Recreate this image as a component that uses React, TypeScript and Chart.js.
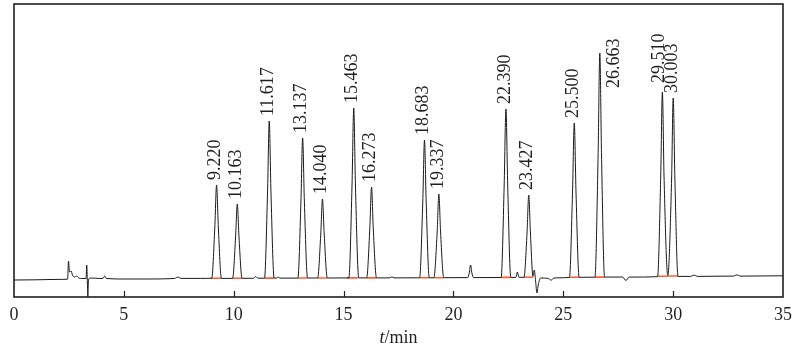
import React, { useEffect, useRef } from "react";
import { Chart, registerables } from "chart.js";

Chart.register(...registerables);

// Chromatogram trace: [retention time (min), signal]
const trace: [number, number][] = [
  [0, -1], [1.0, -0.8], [2.0, -0.4], [2.44, -0.2], [2.48, 18], [2.53, 7], [2.6, 8], [2.66, 4],
  [2.75, 2], [2.85, 3], [2.95, 1], [3.1, 0.5], [3.28, 0.5], [3.31, 14], [3.34, -4], [3.36, -18],
  [3.39, 0], [3.5, 1], [3.9, 0.5], [4.05, 0.6], [4.13, 3], [4.2, 0.5], [5.0, 0], [6.0, 0],
  [7.3, 0.5], [7.47, 2], [7.6, 0.6], [8.5, 0.6], [9.0, 0.8],
  [9.14, 52], [9.22, 94], [9.30, 52], [9.44, 0.6],
  [9.95, 0.6], [10.085, 42], [10.163, 75], [10.24, 42], [10.38, 0.7],
  [10.9, 0.7], [11.0, 2.5], [11.1, 0.8],
  [11.40, 0.8], [11.54, 87], [11.617, 158], [11.695, 87], [11.84, 0.9],
  [11.95, 0.9], [12.02, 2], [12.1, 0.9],
  [12.92, 0.9], [13.06, 78], [13.137, 141], [13.215, 78], [13.36, 1.0],
  [13.82, 1.0], [13.96, 44], [14.04, 80], [14.12, 44], [14.26, 1.0],
  [15.24, 1.1], [15.385, 94], [15.463, 171], [15.54, 94], [15.69, 1.1],
  [16.05, 1.1], [16.195, 51], [16.273, 92], [16.35, 51], [16.50, 1.1],
  [17.1, 1.1], [17.2, 2.2], [17.3, 1.1],
  [18.46, 1.2], [18.605, 77], [18.683, 139], [18.76, 77], [18.90, 1.2],
  [19.11, 1.3], [19.26, 47], [19.337, 85], [19.415, 47], [19.56, 1.3],
  [20.65, 1.4], [20.72, 6], [20.78, 14], [20.84, 6], [20.92, 1.4],
  [22.17, 1.5], [22.31, 94], [22.39, 170], [22.47, 94], [22.61, 1.6],
  [22.84, 1.6], [22.91, 7], [22.98, 1.7],
  [23.21, 1.7], [23.35, 46], [23.427, 84], [23.505, 46], [23.62, 2.5],
  [23.68, 9], [23.74, -2], [23.80, -14], [23.86, -6], [23.97, 1], [24.3, 0.6], [24.45, -1.2],
  [24.55, 0.8], [24.8, 1.2],
  [25.28, 1.6], [25.42, 86], [25.50, 156], [25.58, 86], [25.72, 1.7],
  [26.44, 1.8], [26.585, 124], [26.663, 226], [26.74, 124], [26.88, 1.9],
  [27.7, 2.0], [27.85, -1.5], [28.0, 1.9],
  [29.29, 2.3], [29.435, 103], [29.51, 187], [29.585, 103], [29.757, 3.5],
  [29.93, 100], [30.003, 181], [30.08, 100], [30.22, 2.6],
  [30.8, 2.6], [30.95, 4], [31.1, 2.6], [32.0, 2.8], [32.75, 2.9], [32.9, 4.2], [33.05, 2.9],
  [35, 3.2],
];

// Labelled peaks
const peakTimes = [9.22, 10.163, 11.617, 13.137, 14.04, 15.463, 16.273, 18.683, 19.337, 22.39, 23.427, 25.5, 26.663, 29.51, 30.003];
const peakHeights = [94, 75, 158, 141, 80, 171, 92, 139, 85, 170, 84, 156, 226, 187, 181];
const peakLabels = ["9.220", "10.163", "11.617", "13.137", "14.040", "15.463", "16.273", "18.683", "19.337", "22.390", "23.427", "25.500", "26.663", "29.510", "30.003"];

// Integration baselines under the peaks
const integStart = [8.95, 9.94, 11.40, 12.92, 13.82, 15.15, 16.05, 18.46, 19.11, 22.17, 23.21, 25.28, 26.44, 29.29, 29.76];
const integEnd = [9.44, 10.38, 11.84, 13.36, 14.26, 15.65, 16.50, 18.90, 19.56, 22.61, 23.62, 25.72, 26.88, 29.757, 30.22];
const integBase = [0.7, 0.7, 0.9, 1.0, 1.0, 1.1, 1.1, 1.2, 1.3, 1.6, 1.8, 1.7, 1.9, 2.8, 3.0];

const xTicks = [0, 5, 10, 15, 20, 25, 30, 35];
const xMin = 0;
const xMax = 35;
const yMin = -18;
const yMax = 275;

const SERIF = '"Liberation Serif", "Times New Roman", serif';
const INK = "#231f20";

const decorPlugin = {
  id: "decor",
  afterDatasetsDraw(chart: any) {
    const { ctx, chartArea, scales } = chart;
    const xs = scales.x;
    const ys = scales.y;
    ctx.save();
    // frame
    ctx.strokeStyle = INK;
    ctx.lineWidth = 1.6;
    ctx.strokeRect(chartArea.left, chartArea.top, chartArea.right - chartArea.left, chartArea.bottom - chartArea.top);
    // inner ticks
    ctx.lineWidth = 1.2;
    xTicks.forEach((t) => {
      if (t === xMin || t === xMax) return;
      const px = Math.round(xs.getPixelForValue(t)) + 0.5;
      ctx.beginPath();
      ctx.moveTo(px, chartArea.bottom);
      ctx.lineTo(px, chartArea.bottom - 6);
      ctx.stroke();
    });
    // peak labels
    ctx.fillStyle = INK;
    ctx.font = `18px ${SERIF}`;
    ctx.textAlign = "left";
    ctx.textBaseline = "middle";
    peakLabels.forEach((lab, i) => {
      const px = xs.getPixelForValue(peakTimes[i]);
      const py = ys.getPixelForValue(peakHeights[i]);
      const w = ctx.measureText(lab).width;
      let x = px - 1;
      let y = py - 5;
      if (i + 1 < peakTimes.length) {
        const nx = xs.getPixelForValue(peakTimes[i + 1]);
        if (nx - px < 14) {
          x -= 2.5;
          y -= 4;
        }
      }
      if (y - w < chartArea.top + 4) {
        x = px + 14;
        y = py + 35;
      }
      ctx.save();
      ctx.translate(x, y);
      ctx.rotate(-Math.PI / 2);
      ctx.fillText(lab, 0, 0);
      ctx.restore();
    });
    // axis title: t/min with italic t
    const cx = (chartArea.left + chartArea.right) / 2;
    const ty = 338;
    ctx.textBaseline = "middle";
    ctx.font = `italic 18px ${SERIF}`;
    const wt = ctx.measureText("t").width;
    ctx.font = `18px ${SERIF}`;
    const wr = ctx.measureText("/min").width;
    const x0 = cx - (wt + wr) / 2;
    ctx.font = `italic 18px ${SERIF}`;
    ctx.fillText("t", x0, ty);
    ctx.font = `18px ${SERIF}`;
    ctx.fillText("/min", x0 + wt, ty);
    ctx.restore();
  },
};

export default function App() {
  const canvasRef = useRef<HTMLCanvasElement | null>(null);

  useEffect(() => {
    if (!canvasRef.current) return;
    const markerData: { x: number; y: number | null }[] = [];
    integStart.forEach((s, i) => {
      markerData.push({ x: s, y: integBase[i] });
      markerData.push({ x: integEnd[i], y: integBase[i] });
      markerData.push({ x: integEnd[i] + 0.01, y: null });
    });
    const chart = new Chart(canvasRef.current, {
      type: "line",
      data: {
        datasets: [
          {
            label: "signal",
            data: trace.map(([x, y]) => ({ x, y })),
            borderColor: "#1a1a1a",
            borderWidth: 1,
            pointRadius: 0,
            cubicInterpolationMode: "monotone",
            fill: false,
            order: 1,
          },
          {
            label: "integration",
            data: markerData as any,
            borderColor: "rgb(255, 95, 55)",
            borderWidth: 1.6,
            pointRadius: 0,
            spanGaps: false,
            fill: false,
            order: 2,
          },
        ],
      },
      options: {
        animation: false,
        responsive: true,
        maintainAspectRatio: false,
        layout: { padding: { left: 14, right: 13, top: 4, bottom: 18 } },
        plugins: {
          legend: { display: false },
          tooltip: { enabled: false },
          title: { display: false },
        },
        scales: {
          x: {
            type: "linear",
            min: xMin,
            max: xMax,
            afterBuildTicks: (axis: any) => {
              axis.ticks = xTicks.map((v) => ({ value: v }));
            },
            afterFit: (axis: any) => {
              axis.height = 35;
              axis.paddingLeft = 0;
              axis.paddingRight = 0;
            },
            grid: { display: false, drawTicks: false },
            border: { display: false },
            ticks: {
              padding: 7,
              color: INK,
              font: { family: SERIF, size: 18 },
              maxRotation: 0,
              autoSkip: false,
            },
          },
          y: {
            type: "linear",
            min: yMin,
            max: yMax,
            display: false,
          },
        },
      },
      plugins: [decorPlugin],
    });
    return () => chart.destroy();
  }, []);

  return (
    <div style={{ position: "absolute", left: 0, top: 0, width: 796, height: 350, background: "#fff" }}>
      <canvas ref={canvasRef} />
    </div>
  );
}
